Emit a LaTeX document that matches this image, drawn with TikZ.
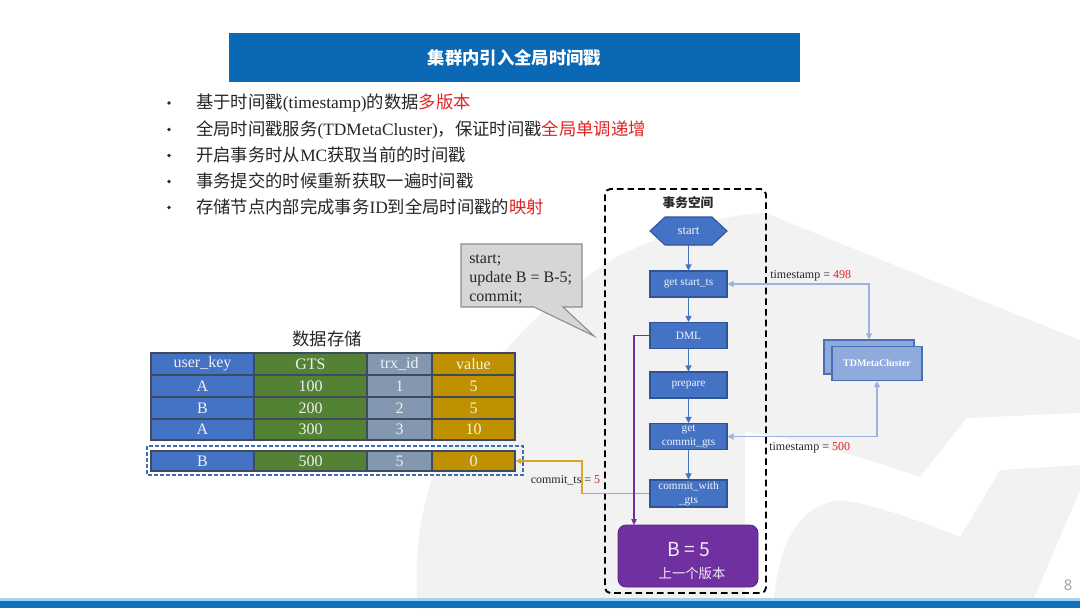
\documentclass[tikz,border=0pt]{standalone}
\usepackage{fontspec}
\setmainfont{Liberation Serif}
\newfontfamily\cjk{Noto Sans CJK SC}
\newfontfamily\numfont{Noto Sans}
\usetikzlibrary{arrows.meta}
\newcommand\zh[1]{{\cjk #1}}
\definecolor{titleblue}{HTML}{0B68B4}
\definecolor{hl}{HTML}{E02424}
\definecolor{txt}{HTML}{262626}
\definecolor{flowf}{HTML}{4472C4}
\definecolor{flowb}{HTML}{2F5597}
\definecolor{tdf}{HTML}{8FAADC}
\definecolor{tdborder}{HTML}{4A6FB5}
\definecolor{lblue}{HTML}{9DB3DF}
\definecolor{goldline}{HTML}{D9A62A}
\definecolor{purp}{HTML}{7030A0}
\definecolor{cblue}{HTML}{4472C4}
\definecolor{cgreen}{HTML}{548235}
\definecolor{cgray}{HTML}{8497B0}
\definecolor{cgold}{HTML}{BF9000}
\definecolor{cellline}{HTML}{3E4A5E}
\definecolor{callf}{HTML}{D6D6D6}
\definecolor{callb}{HTML}{8C8C8C}
\definecolor{bgshape}{HTML}{F2F2F2}
\definecolor{barblue}{HTML}{1370BF}
\definecolor{barlight}{HTML}{9FD3F0}
\definecolor{dashblue}{HTML}{3F6DB8}
\tikzset{
  cell/.style={draw=cellline, line width=0.9pt, inner sep=0pt, text=white!94!black, font=\fontsize{12}{14}\selectfont},
  flow/.style={draw=flowb, fill=flowf, line width=0.8pt, minimum width=57.75pt, minimum height=19.5pt, inner sep=1pt, text=white!92!flowf, align=center, font=\fontsize{8.5}{10.5}\selectfont},
  farr/.style={draw=flowf, line width=0.8pt, -{Triangle[length=4.5pt,width=4.5pt]}},
  lconn/.style={draw=lblue, line width=0.9pt, {Triangle[length=4.5pt,width=4.5pt]}-{Triangle[length=4.5pt,width=4.5pt]}},
  parr/.style={draw=purp, line width=0.9pt, -{Triangle[length=4.5pt,width=4pt]}},
  garr/.style={draw=goldline, line width=1.3pt, -{Triangle[length=4pt,width=4pt]}},
  tdbox/.style={draw=tdborder, fill=tdf, line width=0.8pt, minimum width=67.5pt, minimum height=25.5pt, inner sep=0pt, text=white, font=\bfseries\fontsize{7.5}{9}\selectfont},
  lab/.style={inner sep=0pt, text=txt, font=\fontsize{9}{10}\selectfont},
  bul/.style={anchor=base west, inner sep=0pt, text=txt, font=\fontsize{13}{15}\selectfont}
}
\begin{document}
\begin{tikzpicture}[x=0.75pt,y=-0.75pt]
\useasboundingbox (0,0) rectangle (1080,608);
\fill[white] (0,0) rectangle (1080,608);
% faint background logo
\fill[bgshape] (418,608) .. controls (405,470) and (480,340) .. (620,255) .. controls (680,228) and (720,215) .. (765,213) -- (1080,340) -- (1080,608) -- cycle;
\fill[white] (745,432) .. controls (810,440) and (870,460) .. (920,477) -- (967,418) -- (1080,413) -- (1080,465) -- (1000,470) -- (960,537) .. controls (930,525) and (880,505) .. (840,500) .. controls (800,505) and (778,540) .. (773,608) -- (745,608) -- cycle;
\fill[white] (1030,608) -- (1080,490) -- (1080,608) -- cycle;
% title
\node[fill=titleblue, minimum width=428.25pt, minimum height=36.75pt, inner sep=0pt, text=white, font=\cjk\bfseries\fontsize{13}{15}\selectfont] (title) at (514.5,57.5) {集群内引入全局时间戳};
% bullets
\foreach \y in {103,129.5,155.5,181.5,207.5} \fill[txt] (169,\y) circle (1.4pt);
\node[bul] (b1) at (196,108.5) {\zh{基于时间戳}(timestamp)\zh{的数据}\textcolor{hl}{\zh{多版本}}};
\node[bul] (b2) at (196,135) {\zh{全局时间戳服务}(TDMetaCluster)\zh{，保证时间戳}\textcolor{hl}{\zh{全局单调递增}}};
\node[bul] (b3) at (196,161) {\zh{开启事务时从}MC\zh{获取当前的时间戳}};
\node[bul] (b4) at (196,187) {\zh{事务提交的时候重新获取一遍时间戳}};
\node[bul] (b5) at (196,213) {\zh{存储节点内部完成事务}ID\zh{到全局时间戳的}\textcolor{hl}{\zh{映射}}};
% callout
\filldraw[fill=callf, draw=callb, line width=0.8pt] (461,244) -- (582,244) -- (582,307) -- (563,307) -- (594,336) -- (534,307) -- (461,307) -- cycle;
\node[anchor=base west, inner sep=0pt, text=txt, font=\fontsize{12}{14}\selectfont] (c1) at (469,263) {start;};
\node[anchor=base west, inner sep=0pt, text=txt, font=\fontsize{12}{14}\selectfont] (c2) at (469,282) {update B = B-5;};
\node[anchor=base west, inner sep=0pt, text=txt, font=\fontsize{12}{14}\selectfont] (c3) at (469,301) {commit;};
% table
\node[text=txt, font=\cjk\fontsize{13}{15}\selectfont] (dt) at (327,339) {数据存储};
\foreach \n/\y/\h/\a/\b/\c/\d in {h/364/16.5pt/user\_key/GTS/trx\_id/value, r1/386/16.5pt/A/100/1/5, r2/408/16.5pt/B/200/2/5, r3/429.5/15.75pt/A/300/3/10, r5/461/15pt/B/500/5/0}{
  \node[cell, fill=cblue, minimum width=77.25pt, minimum height=\h] (\n-a) at (202.5,\y) {\a};
  \node[cell, fill=cgreen, minimum width=84.75pt, minimum height=\h] (\n-b) at (310.5,\y) {\b};
  \node[cell, fill=cgray, minimum width=48.75pt, minimum height=\h] (\n-c) at (399.5,\y) {\c};
  \node[cell, fill=cgold, minimum width=62.25pt, minimum height=\h] (\n-d) at (473.5,\y) {\d};
}
\draw[dashblue, line width=1.2pt, dash pattern=on 3pt off 1.5pt] (147,446) rectangle (523,475);
% transaction frame
\draw[black, line width=1.4pt, dash pattern=on 5pt off 3pt, rounded corners=4pt] (605,189) rectangle (766,593);
\node[text=txt, font=\cjk\bfseries\fontsize{9.5}{11}\selectfont] (ts) at (688,203) {事务空间};
\filldraw[fill=flowf, draw=flowb, line width=0.8pt] (650,231) -- (665,217) -- (712,217) -- (727,231) -- (712,245) -- (665,245) -- cycle;
\node[minimum width=57.75pt, minimum height=21pt, inner sep=0pt, text=white!92!flowf, font=\fontsize{9.5}{10}\selectfont] (start) at (688.5,231) {start};
\node[flow] (gst) at (688.5,284) {get start\_ts};
\node[flow] (dml) at (688.5,335.5) {DML};
\node[flow] (prep) at (688.5,385) {prepare};
\node[flow] (gcg) at (688.5,436.5) {get\\commit\_gts};
\node[flow] (cwg) at (688.5,493.5) {commit\_with\\\_gts};
\draw[farr] (start) -- (gst);
\draw[farr] (gst) -- (dml);
\draw[farr] (dml) -- (prep);
\draw[farr] (prep) -- (gcg);
\draw[farr] (gcg) -- (cwg);
% gold commit line
\coordinate (gk) at (582,461);
\draw[garr] (cwg.west) -| (gk) -- (r5-d.east);
\node[lab] (lcts) at (565.5,480) {commit\_ts = \textcolor{hl}{5}};
% purple line
\coordinate (pv) at (634,525);
\draw[parr] (dml.west) -| (pv);
% purple result box
\node[fill=purp, draw=purp!80!black, line width=0.6pt, rounded corners=6pt, minimum width=105pt, minimum height=46.5pt, inner sep=0pt] (bv) at (688,556) {};
\node[text=white!90!purp, inner sep=0pt, font=\cjk\fontsize{14.5}{16}\selectfont] (bvt) at (689,550) {B = 5};
\node[text=white!90!purp, inner sep=0pt, font=\cjk\fontsize{10}{12}\selectfont] (bvs) at (692,573) {上一个版本};
% TDMetaCluster
\node[tdbox] (tdback) at (869,357) {};
\node[tdbox] (td) at (877,363.5) {TDMetaCluster};
\draw[lconn] (gst.east) -- (gst.east -| tdback.north) -- (tdback.north);
\draw[lconn] (gcg.east) -- (gcg.east -| td.south) -- (td.south);
\node[lab, anchor=west] (l498) at (770,276) {timestamp = \textcolor{hl}{498}};
\node[lab, anchor=west] (l500) at (769,448) {timestamp = \textcolor{hl}{500}};
% bottom bar & page number
\fill[barlight] (0,598) rectangle (1080,601);
\fill[barblue] (0,601) rectangle (1080,608);
\node[text=gray!70, font=\numfont\fontsize{11}{12}\selectfont] (pg) at (1068,585) {8};
\end{tikzpicture}
\end{document}
